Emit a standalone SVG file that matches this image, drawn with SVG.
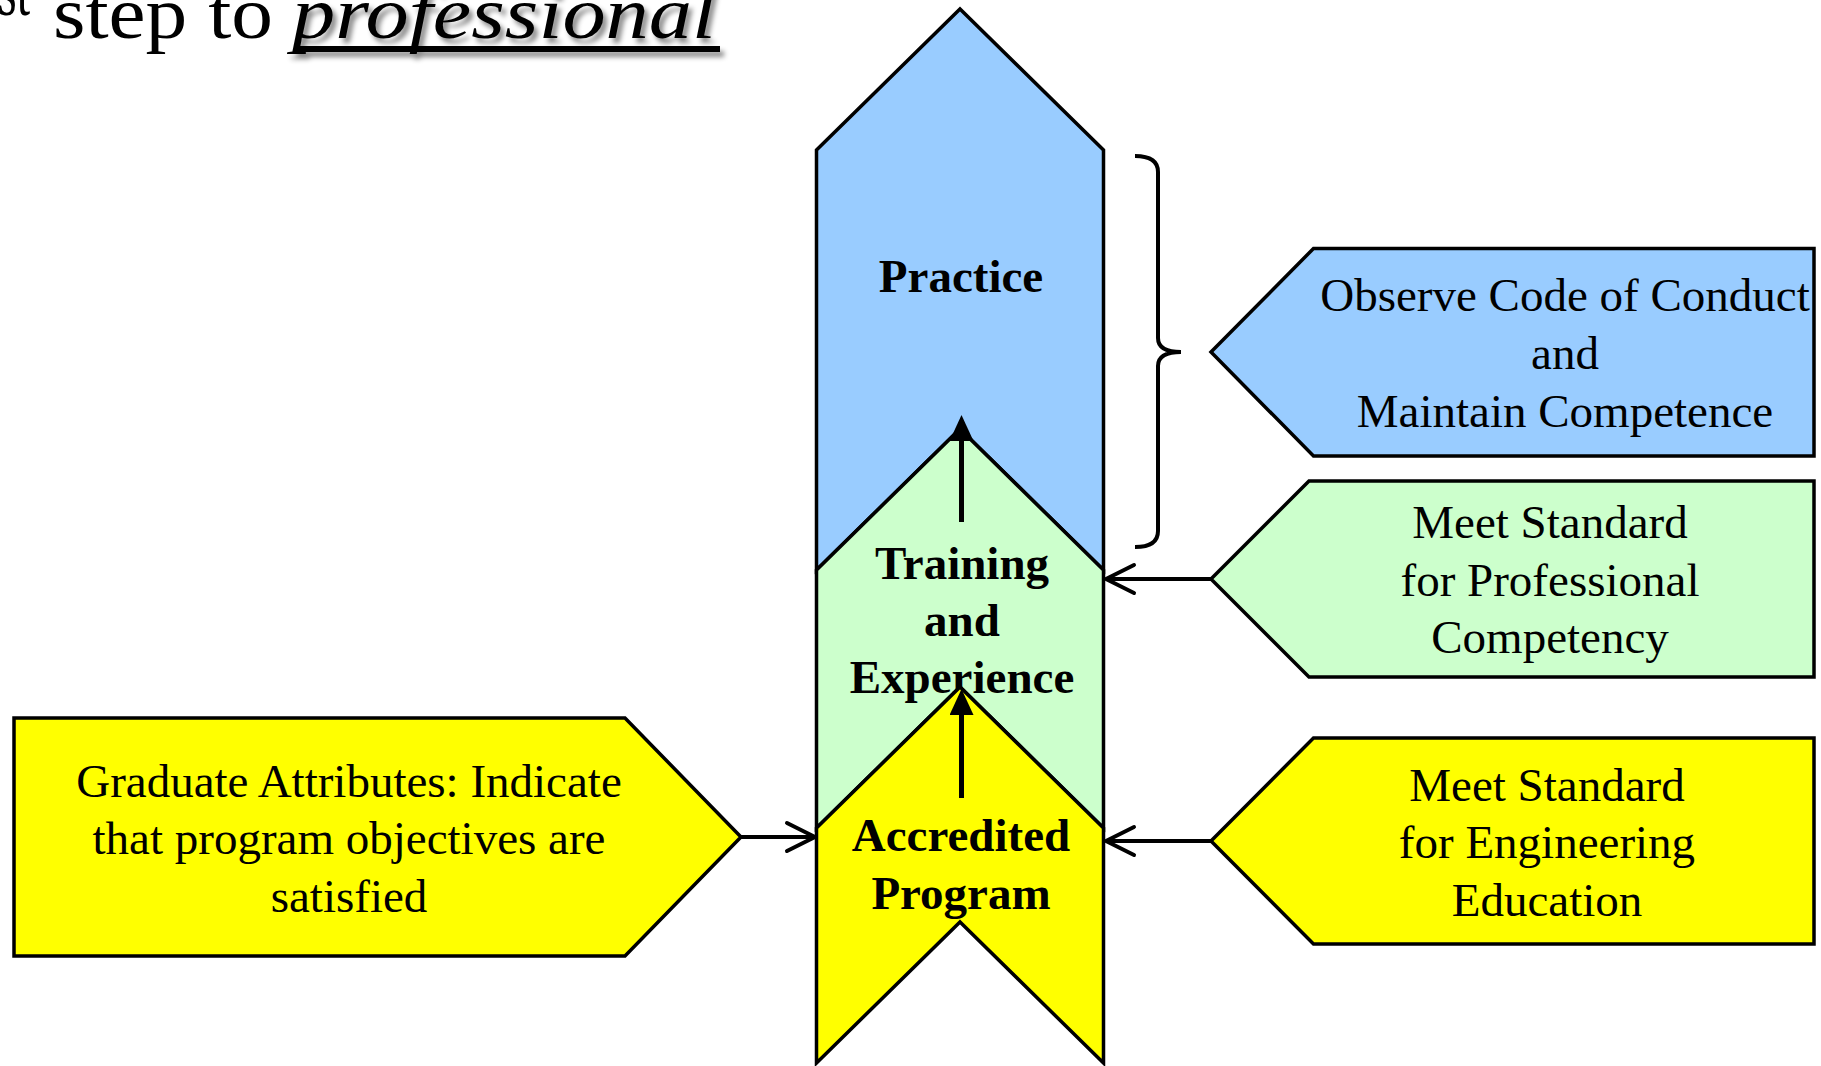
<svg xmlns="http://www.w3.org/2000/svg" width="1821" height="1066" viewBox="0 0 1821 1066">
  <style>
    .shape { stroke: #000; stroke-width: 3.5; stroke-linejoin: miter; }
    .blue { fill: #99CCFF; }
    .green { fill: #CCFFCC; }
    .yellow { fill: #FFFF00; }
    .stage { font-family: "Liberation Serif", "Times New Roman", serif; font-weight: bold; font-size: 47px; text-anchor: middle; fill: #000; }
    .note { font-family: "Liberation Serif", "Times New Roman", serif; font-size: 47px; text-anchor: middle; fill: #000; }
    .title { font-family: "Liberation Serif", "Times New Roman", serif; font-size: 74px; fill: #000; }
    .up { stroke: #000; stroke-width: 5; fill: none; }
    .feed { stroke: #000; stroke-width: 4; fill: none; }
  </style>
  <defs>
    <marker id="solid-head" viewBox="0 0 26 24" refX="0" refY="12" markerWidth="26" markerHeight="24" markerUnits="userSpaceOnUse" orient="auto">
      <path d="M0,0 L26,12 L0,24 Z" fill="#000"/>
    </marker>
    <marker id="open-head" viewBox="-4 -4 36 36" refX="28" refY="14" markerWidth="36" markerHeight="36" markerUnits="userSpaceOnUse" orient="auto" overflow="visible">
      <path d="M0,0 L28,14 L0,28" fill="none" stroke="#000" stroke-width="4" stroke-linecap="round" stroke-linejoin="round"/>
    </marker>
    <filter id="soft-shadow" x="-10%" y="-30%" width="120%" height="170%">
      <feDropShadow dx="4" dy="5" stdDeviation="2.5" flood-color="#000" flood-opacity="0.45"/>
    </filter>
  </defs>

  <!-- heading line, partly outside the frame -->
  <g id="heading">
    <text class="title" x="-2" y="15" font-size="46" textLength="32" lengthAdjust="spacingAndGlyphs">st</text>
    <text class="title" x="53" y="38" textLength="220" lengthAdjust="spacingAndGlyphs">step to</text>
    <g filter="url(#soft-shadow)">
      <text class="title" x="292" y="38" font-style="italic" textLength="424" lengthAdjust="spacingAndGlyphs">professional</text>
      <rect x="296" y="46" width="424" height="6" fill="#000"/>
    </g>
  </g>

  <!-- central column of stages -->
  <g id="practice">
    <polygon class="shape blue" points="816.5,150 960,9 1103.5,150 1103.5,570 960,429 816.5,570"/>
    <text class="stage" x="961" y="292">Practice</text>
  </g>
  <g id="training">
    <polygon class="shape green" points="816.5,570 960,429 1103.5,570 1103.5,828 960,687 816.5,828"/>
    <text class="stage" x="962" y="579">Training</text>
    <text class="stage" x="962" y="636">and</text>
    <text class="stage" x="962" y="693">Experience</text>
  </g>
  <g id="accredited">
    <polygon class="shape yellow" points="816.5,828 960,687 1103.5,828 1103.5,1063 960,922 816.5,1063"/>
    <text class="stage" x="961" y="851">Accredited</text>
    <text class="stage" x="961" y="909">Program</text>
  </g>

  <!-- side notes -->
  <g id="conduct">
    <polygon class="shape blue" points="1211,352 1313.5,248.5 1814,248.5 1814,456 1313.5,456"/>
    <text class="note" x="1565" y="311">Observe Code of Conduct</text>
    <text class="note" x="1565" y="369">and</text>
    <text class="note" x="1565" y="427">Maintain Competence</text>
  </g>
  <g id="competency">
    <polygon class="shape green" points="1211,579 1309,481 1814,481 1814,677 1309,677"/>
    <text class="note" x="1550" y="538">Meet Standard</text>
    <text class="note" x="1550" y="596">for Professional</text>
    <text class="note" x="1550" y="653">Competency</text>
  </g>
  <g id="education">
    <polygon class="shape yellow" points="1211,841 1313.5,738 1814,738 1814,944 1313.5,944"/>
    <text class="note" x="1547" y="801">Meet Standard</text>
    <text class="note" x="1547" y="858">for Engineering</text>
    <text class="note" x="1547" y="916">Education</text>
  </g>
  <g id="attributes">
    <polygon class="shape yellow" points="14,718 625,718 741,837 625,956 14,956"/>
    <text class="note" x="349" y="797">Graduate Attributes: Indicate</text>
    <text class="note" x="349" y="854">that program objectives are</text>
    <text class="note" x="349" y="912">satisfied</text>
  </g>

  <!-- connectors -->
  <g id="connectors">
    <path class="up" d="M961.5,522 L961.5,441" marker-end="url(#solid-head)"/>
    <path class="up" d="M961.5,798 L961.5,715" marker-end="url(#solid-head)"/>
    <path class="feed" d="M1211,579 L1106,579" marker-end="url(#open-head)"/>
    <path class="feed" d="M1211,841 L1106,841" marker-end="url(#open-head)"/>
    <path class="feed" d="M741,837 L815,837" marker-end="url(#open-head)"/>
    <path class="feed" stroke-width="3.5" d="M1135,156 Q1158,156 1158,172 L1158,338 Q1158,352 1181,352 Q1158,352 1158,366 L1158,531 Q1158,547 1135,547"/>
  </g>
</svg>
